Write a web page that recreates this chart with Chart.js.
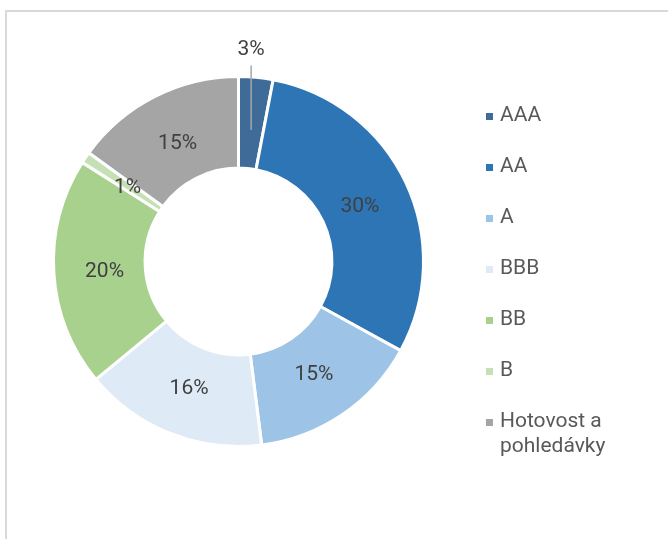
<!DOCTYPE html>
<html>
<head>
<meta charset="utf-8">
<script src="https://cdn.jsdelivr.net/npm/chart.js@4.4.1/dist/chart.umd.min.js"></script>
<style>
  html, body { margin: 0; padding: 0; background: #fff; overflow: hidden; }
  #frame { position: absolute; left: 5px; top: 10px; width: 700px; height: 600px;
           border-left: 2px solid #d9d9d9; border-top: 2px solid #d9d9d9; }
  #chart { position: absolute; left: 0; top: 0; }
</style>
</head>
<body>
<div id="frame"></div>
<canvas id="chart" width="668" height="539"></canvas>
<script>
const labels = ["AAA", "AA", "A", "BBB", "BB", "B", ["Hotovost a", "pohledávky"]];
const shares = [3, 30, 15, 16, 20, 1, 15];
const colors = ["#3e6b97", "#2e75b6", "#9dc3e6", "#deebf7", "#a9d18e", "#c5e0b4", "#a5a5a5"];

const FONT = "Roboto, 'Open Sans', sans-serif";
const calloutIndex = 0; // small slice whose label sits above the ring

// percent labels on the ring (first one pulled out with a leader line)
const sliceLabels = {
  id: "sliceLabels",
  afterDatasetsDraw(chart) {
    const { ctx } = chart;
    const meta = chart.getDatasetMeta(0);
    const data = chart.data.datasets[0].data;
    const total = data.reduce((a, b) => a + b, 0);
    ctx.save();
    ctx.font = `21px ${FONT}`;
    ctx.fillStyle = "#404040";
    ctx.textAlign = "center";
    ctx.textBaseline = "middle";
    meta.data.forEach((arc, i) => {
      const txt = Math.round(data[i] / total * 100) + "%";
      const mid = (arc.startAngle + arc.endAngle) / 2;
      const r = (arc.innerRadius + arc.outerRadius) / 2 - 5;
      const x = arc.x + Math.cos(mid) * r;
      const y = arc.y + Math.sin(mid) * r + 2;
      if (i === calloutIndex) {
        const ly = arc.y - arc.outerRadius - 27;
        ctx.strokeStyle = "#a6a6a6";
        ctx.lineWidth = 1.5;
        ctx.beginPath();
        ctx.moveTo(x, ly + 16);
        ctx.lineTo(x, y);
        ctx.stroke();
        ctx.fillText(txt, x, ly);
      } else {
        ctx.fillText(txt, x, y);
      }
    });
    ctx.restore();
  }
};

// legend column on the right, built from the chart's labels/colours
const sideLegend = {
  id: "sideLegend",
  afterDraw(chart) {
    const { ctx } = chart;
    const bg = chart.data.datasets[0].backgroundColor;
    ctx.save();
    ctx.font = `21px ${FONT}`;
    ctx.textBaseline = "middle";
    ctx.textAlign = "left";
    chart.data.labels.forEach((lab, i) => {
      const y = 116 + i * 51;
      ctx.fillStyle = bg[i];
      ctx.fillRect(486, y - 3, 7, 7);
      ctx.fillStyle = "#595959";
      [].concat(lab).forEach((line, k) => ctx.fillText(line, 500, y + k * 25));
    });
    ctx.restore();
  }
};

new Chart(document.getElementById("chart").getContext("2d"), {
  type: "doughnut",
  data: {
    labels: labels,
    datasets: [{
      data: shares,
      backgroundColor: colors,
      borderColor: "#ffffff",
      borderWidth: 3
    }]
  },
  options: {
    responsive: false,
    animation: false,
    radius: 185,
    cutout: "50.5%",
    layout: { padding: { left: 48.5, right: 239.5, top: 71.5, bottom: 87.5 } },
    plugins: {
      legend: { display: false },
      tooltip: { enabled: false }
    }
  },
  plugins: [sliceLabels, sideLegend]
});
</script>
</body>
</html>
